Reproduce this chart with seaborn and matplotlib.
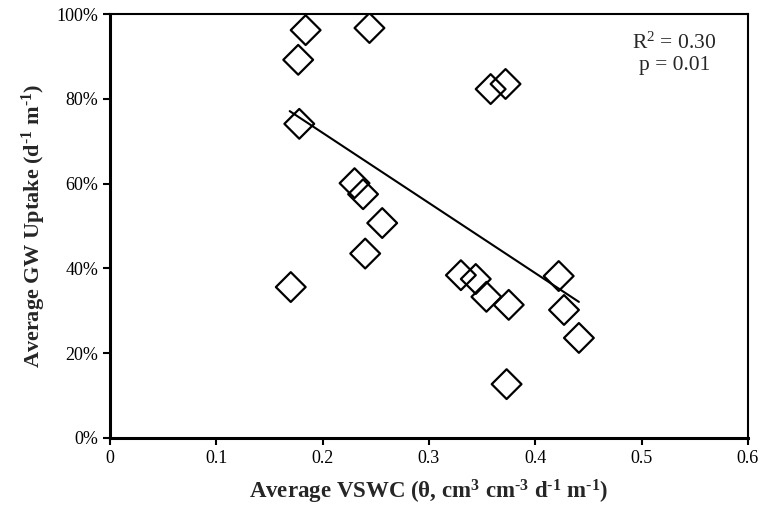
import numpy as np
import pandas as pd
import matplotlib
matplotlib.use('Agg')
import matplotlib.pyplot as plt
import seaborn as sns
from matplotlib.ticker import PercentFormatter

## values
vswc = [0.184, 0.244, 0.177, 0.178, 0.230, 0.238, 0.256, 0.240, 0.358, 0.372,
        0.170, 0.330, 0.344, 0.354, 0.375, 0.422, 0.427, 0.441, 0.373]
gw_uptake = [96.2, 96.7, 89.2, 74.1, 60.1, 57.5, 50.7, 43.5, 82.3, 83.5,
             35.6, 38.4, 37.5, 33.3, 31.4, 38.2, 30.2, 23.6, 12.7]

# trend line end points, as drawn
trend_x = [0.169, 0.441]
trend_y = [77.1, 32.1]

x_ticks = [0, 0.1, 0.2, 0.3, 0.4, 0.5, 0.6]
x_ticklabels = ['0', '0.1', '0.2', '0.3', '0.4', '0.5', '0.6']
y_ticks = [0, 20, 40, 60, 80, 100]

df = pd.DataFrame({'vswc': vswc, 'uptake': gw_uptake})

sns.set_theme(style='white')
plt.rcParams['font.family'] = ['Liberation Serif', 'DejaVu Serif']
plt.rcParams['mathtext.fontset'] = 'custom'
plt.rcParams['mathtext.rm'] = 'Liberation Serif'
plt.rcParams['mathtext.bf'] = 'Liberation Serif:bold'
plt.rcParams['mathtext.it'] = 'Liberation Serif:italic'

fig = plt.figure(figsize=(7.78, 5.08), dpi=100)
ax = fig.add_axes([0.1414, 0.1378, 0.8200, 0.8346])

sns.scatterplot(data=df, x='vswc', y='uptake', marker='D', s=230,
                facecolor='none', edgecolor='black', linewidth=1.6, ax=ax, zorder=3)
sns.lineplot(x=trend_x, y=trend_y, color='black', linewidth=1.5, ax=ax, zorder=2)

ax.set_xlim(0, 0.6)
ax.set_ylim(0, 100)
ax.set_xticks(x_ticks)
ax.set_xticklabels(x_ticklabels)
ax.set_yticks(y_ticks)
ax.yaxis.set_major_formatter(PercentFormatter(decimals=0))
ax.tick_params(axis='both', direction='out', length=5, width=1.5, labelsize=13,
               colors='black', bottom=True, left=True)

for side in ['left', 'bottom']:
    ax.spines[side].set_linewidth(2.2)
for side in ['top', 'right']:
    ax.spines[side].set_linewidth(1.5)
for sp in ax.spines.values():
    sp.set_color('black')

# hyphen-style minus as in the original
hy = '\u2010'
ax.set_xlabel('Average VSWC ($\\mathbf{\\theta}$, cm$^\\mathbf{3}$ cm$^\\mathbf{' + hy + '3}$ d$^\\mathbf{' + hy + '1}$ m$^\\mathbf{' + hy + '1}$)',
              fontsize=16.5, fontweight='bold', labelpad=8)
ax.set_ylabel('Average GW Uptake (d$^\\mathbf{' + hy + '1}$ m$^\\mathbf{' + hy + '1}$)',
              fontsize=16, fontweight='bold', labelpad=6)

ax.text(0.885, 0.906, 'R$^2$ = 0.30\np = 0.01', transform=ax.transAxes,
        ha='center', va='center', fontsize=15.5, linespacing=1.15)

fig.savefig('out.png', dpi=100)
